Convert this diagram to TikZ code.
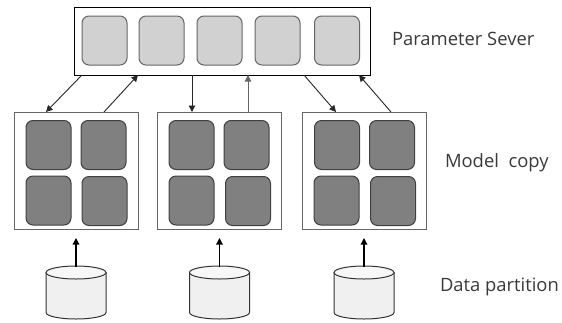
\documentclass[tikz,border=0pt]{standalone}
\usepackage{fontspec}
\setmainfont{Open Sans}
\usetikzlibrary{arrows.meta}
\definecolor{txt}{HTML}{3A3A3A}
\tikzset{
  x=1pt,y=-1pt,
  box/.style={draw=#1,fill=white,line width=1pt,rectangle,inner sep=0pt,outer sep=0pt},
  serverbox/.style={box=black,minimum width=296pt,minimum height=68pt},
  copybox/.style={box=black!60,minimum width=124pt,minimum height=117pt},
  lightcell/.style={draw=black!60,fill=black!18,line width=1pt,rectangle,rounded corners=7pt,inner sep=0pt,outer sep=0pt,minimum width=45pt,minimum height=49pt},
  darkcell/.style={draw=black!75,fill=black!50,line width=1pt,rectangle,rounded corners=7pt,inner sep=0pt,outer sep=0pt,minimum width=45pt,minimum height=49pt},
  datadb/.style={rectangle,inner sep=0pt,outer sep=0pt,minimum width=60pt,minimum height=53pt},
  dbbody/.style={draw=black!80,line width=1pt,fill=black!6},
  dbtop/.style={draw=black!80,line width=1pt,fill=black!3},
  link/.style={draw=black!85,line width=.9pt,-{Triangle[length=6.5pt,width=6.5pt]}},
  feed/.style={draw=black,line width=1.2pt,-{Triangle[length=6.5pt,width=6.5pt]}},
  caption/.style={text=txt,font=\fontsize{18.4}{20}\selectfont,inner sep=0pt,outer sep=0pt,anchor=base west}
}
\newcommand{\drawdb}[1]{%
  \path[dbbody] ([yshift=-6.5pt]#1.north west) -- ([yshift=6.5pt]#1.south west)
    arc[start angle=180,end angle=360,x radius=30pt,y radius=6.5pt]
    -- ([yshift=-6.5pt]#1.north east) -- cycle;
  \path[dbtop] ([yshift=-6.5pt]#1.north west)
    arc[start angle=180,end angle=540,x radius=30pt,y radius=6.5pt] -- cycle;
}
\begin{document}
\begin{tikzpicture}
\useasboundingbox (0,0) rectangle (562,322);
\fill[white] (0,0) rectangle (562,322);
% server
\node[serverbox] (ps) at (222,41) {};
\node[lightcell] (p1) at (104.5,40.5) {};
\node[lightcell] (p2) at (161.5,40.5) {};
\node[lightcell] (p3) at (219.5,40.5) {};
\node[lightcell] (p4) at (277.5,40.5) {};
\node[lightcell] (p5) at (337,40.5) {};
% model copies
\node[copybox] (m1) at (76,170.5) {};
\node[copybox] (m2) at (219.5,170.5) {};
\node[copybox] (m3) at (364,170.5) {};
\node[darkcell] (a1) at (48.5,145) {};
\node[darkcell] (a2) at (103.5,145) {};
\node[darkcell] (a3) at (48.5,200.5) {};
\node[darkcell] (a4) at (104.5,201) {};
\node[darkcell] (b1) at (191.5,145) {};
\node[darkcell] (b2) at (246.5,145) {};
\node[darkcell] (b3) at (191.5,200.5) {};
\node[darkcell] (b4) at (248,201) {};
\node[darkcell] (c1) at (337,145) {};
\node[darkcell] (c2) at (392,145) {};
\node[darkcell] (c3) at (336.5,200.5) {};
\node[darkcell] (c4) at (393,201) {};
% data
\node[datadb] (d1) at (76,292.5) {};
\node[datadb] (d2) at (219.5,292.5) {};
\node[datadb] (d3) at (364,292.5) {};
\drawdb{d1}\drawdb{d2}\drawdb{d3}
% connectors
\draw[link] ([xshift=8pt]ps.south west) -- ([xshift=32pt]m1.north west);
\draw[link] ([xshift=90pt]m1.north west) -- ([xshift=64pt]ps.south west);
\draw[link] ([xshift=118pt]ps.south west) -- ([xshift=34.5pt]m2.north west);
\draw[link,draw=black!60,line width=1pt] ([xshift=90.5pt]m2.north west) -- ([xshift=174pt]ps.south west);
\draw[link] ([xshift=-66pt]ps.south east) -- ([xshift=34pt]m3.north west);
\draw[link] ([xshift=89pt]m3.north west) -- ([xshift=-11pt]ps.south east);
\draw[feed] ([yshift=-1pt]d1.north) -- ([yshift=-9pt]m1.south);
\draw[feed] ([yshift=-1pt]d2.north) -- ([yshift=-9pt]m2.south);
\draw[feed] ([yshift=-1pt]d3.north) -- ([yshift=-9pt]m3.south);
% captions
\node[caption] (t1) at (392,45) {Parameter Sever};
\node[caption] (t2) at (445,167) {Model\ \ copy};
\node[caption] (t3) at (440,291) {Data partition};
\end{tikzpicture}
\end{document}
